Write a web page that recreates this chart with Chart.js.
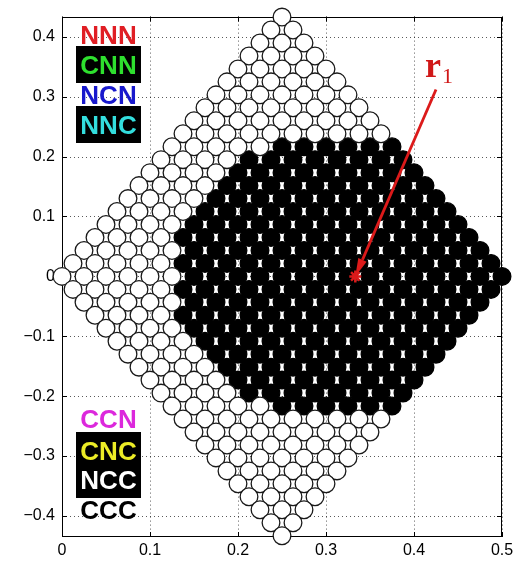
<!DOCTYPE html>
<html>
<head>
<meta charset="utf-8">
<script src="https://cdn.jsdelivr.net/npm/chart.js@4.4.0/dist/chart.umd.min.js"></script>
<style>
html,body{margin:0;padding:0;background:#fff;}
#wrap{width:524px;height:565px;position:relative;}
</style>
</head>
<body>
<div id="wrap"><canvas id="c" width="524" height="565"></canvas></div>
<script>
// ---- data ----
const latticeStepX = 0.025;
const rowY = [
  0.4330, 0.4114, 0.3897, 0.3681, 0.3464, 0.3248, 0.3031, 0.2815, 0.2598, 0.2382,
  0.2165, 0.1949, 0.1732, 0.1516, 0.1299, 0.1083, 0.0866, 0.0650, 0.0433, 0.0217,
  0,
  -0.0217, -0.0433, -0.0650, -0.0866, -0.1083, -0.1299, -0.1516, -0.1732, -0.1949, -0.2165,
  -0.2382, -0.2598, -0.2815, -0.3031, -0.3248, -0.3464, -0.3681, -0.3897, -0.4114, -0.4330
];
const rowFirstX = [
  0.25, 0.2375, 0.225, 0.2125, 0.2, 0.1875, 0.175, 0.1625, 0.15, 0.1375,
  0.125, 0.1125, 0.1, 0.0875, 0.075, 0.0625, 0.05, 0.0375, 0.025, 0.0125,
  0,
  0.0125, 0.025, 0.0375, 0.05, 0.0625, 0.075, 0.0875, 0.1, 0.1125, 0.125,
  0.1375, 0.15, 0.1625, 0.175, 0.1875, 0.2, 0.2125, 0.225, 0.2375, 0.25
];
const rowCount = [
  1, 2, 3, 4, 5, 6, 7, 8, 9, 10,
  11, 12, 13, 14, 15, 16, 17, 18, 19, 20,
  21,
  20, 19, 18, 17, 16, 15, 14, 13, 12, 11,
  10, 9, 8, 7, 6, 5, 4, 3, 2, 1
];
const blackFromX = [
  null, null, null, null, null, null, null, null, null, null,
  0.25, 0.2125, 0.2, 0.1875, 0.175, 0.1625, 0.15, 0.1375, 0.15, 0.1375,
  0.15,
  0.1375, 0.15, 0.1375, 0.15, 0.1625, 0.175, 0.1875, 0.2, 0.2125, 0.25,
  null, null, null, null, null, null, null, null, null, null
];
const xTicks = [0, 0.1, 0.2, 0.3, 0.4, 0.5];
const xTickLabels = ['0', '0.1', '0.2', '0.3', '0.4', '0.5'];
const yTicks = [-0.4, -0.3, -0.2, -0.1, 0, 0.1, 0.2, 0.3, 0.4];
const yTickLabels = ['\u22120.4', '\u22120.3', '\u22120.2', '\u22120.1', '0', '0.1', '0.2', '0.3', '0.4'];
const r1Point = [0.3333, 0];
const arrowStart = [0.425, 0.312];
const r1Label = 'r';
const r1Sub = '1';
const labelsTop = ['NNN', 'CNN', 'NCN', 'NNC'];
const labelsTopColors = ['#e01e24', '#2ee02e', '#1818cc', '#33dede'];
const labelsTopBoxed = [false, true, false, true];
const labelsBottom = ['CCN', 'CNC', 'NCC', 'CCC'];
const labelsBottomColors = ['#dc28dc', '#ecec26', '#ffffff', '#000000'];
const labelsBottomBoxed = [false, true, true, false];

// ---- build points ----
const whitePts = [], blackPts = [];
rowY.forEach((y, i) => {
  for (let j = 0; j < rowCount[i]; j++) {
    const x = +(rowFirstX[i] + j * latticeStepX).toFixed(4);
    const b = blackFromX[i];
    if (b !== null && x >= b - 1e-9) blackPts.push({x, y});
    else whitePts.push({x, y});
  }
});

const RED = '#dc1a1a';

const frame = {
  id: 'frame',
  beforeDatasetsDraw(chart) {
    const {ctx, chartArea: a, scales: {x, y}} = chart;
    ctx.save();
    ctx.strokeStyle = 'rgba(0,0,0,0.65)';
    ctx.lineWidth = 1;
    ctx.setLineDash([1, 3]);
    ctx.beginPath();
    yTicks.forEach(v => {
      const py = Math.round(y.getPixelForValue(v)) + 0.5;
      ctx.moveTo(a.left, py); ctx.lineTo(a.right, py);
    });
    ctx.stroke();
    ctx.setLineDash([]);
    ctx.strokeStyle = '#000';
    ctx.strokeRect(Math.round(a.left) + 0.5, Math.round(a.top) + 0.5,
                   Math.round(a.right - a.left) - 1, Math.round(a.bottom - a.top) - 1);
    ctx.beginPath();
    const L = 5;
    xTicks.forEach(v => {
      const px = Math.round(x.getPixelForValue(v)) + 0.5;
      ctx.moveTo(px, a.bottom); ctx.lineTo(px, a.bottom - L);
      ctx.moveTo(px, a.top); ctx.lineTo(px, a.top + L);
    });
    yTicks.forEach(v => {
      const py = Math.round(y.getPixelForValue(v)) + 0.5;
      ctx.moveTo(a.left, py); ctx.lineTo(a.left + L, py);
      ctx.moveTo(a.right, py); ctx.lineTo(a.right - L, py);
    });
    ctx.stroke();
    ctx.restore();
  }
};

const overlay = {
  id: 'overlay',
  afterDatasetsDraw(chart) {
    const {ctx, scales: {x, y}} = chart;
    ctx.save();
    const sx = x.getPixelForValue(arrowStart[0]), sy = y.getPixelForValue(arrowStart[1]);
    const tx = x.getPixelForValue(r1Point[0]), ty = y.getPixelForValue(r1Point[1]);
    const ang = Math.atan2(ty - sy, tx - sx);
    const headLen = 18, headW = 4.5;
    const bx = tx - headLen * Math.cos(ang), by = ty - headLen * Math.sin(ang);
    ctx.strokeStyle = RED; ctx.fillStyle = RED; ctx.lineWidth = 2.8; ctx.lineCap = 'butt';
    ctx.beginPath(); ctx.moveTo(sx, sy); ctx.lineTo(bx, by); ctx.stroke();
    ctx.beginPath();
    ctx.moveTo(tx, ty);
    ctx.lineTo(bx + headW * Math.sin(ang), by - headW * Math.cos(ang));
    ctx.lineTo(bx - headW * Math.sin(ang), by + headW * Math.cos(ang));
    ctx.closePath(); ctx.fill();
    ctx.fillStyle = '#d01818';
    ctx.textAlign = 'left'; ctx.textBaseline = 'alphabetic';
    ctx.font = "bold 36px 'Liberation Serif', 'DejaVu Serif', serif";
    ctx.fillText(r1Label, sx - 11, sy - 13);
    ctx.font = "22px 'Liberation Serif', 'DejaVu Serif', serif";
    ctx.fillText(r1Sub, sx + 6, sy - 7);

    const cx = 108.5, boxL = 76, boxR = 141;
    const drawGroup = (labels, colors, boxed, baselines) => {
      ctx.fillStyle = '#000';
      labels.forEach((t, i) => {
        if (boxed[i]) ctx.fillRect(boxL, baselines[i] - 28, boxR - boxL, 37);
      });
      ctx.font = "bold 26px 'Liberation Sans', Arial, sans-serif";
      ctx.textAlign = 'center'; ctx.textBaseline = 'alphabetic';
      labels.forEach((t, i) => {
        ctx.fillStyle = colors[i];
        ctx.fillText(t, cx, baselines[i]);
      });
    };
    drawGroup(labelsTop, labelsTopColors, labelsTopBoxed, [44, 74, 104, 134]);
    drawGroup(labelsBottom, labelsBottomColors, labelsBottomBoxed, [428, 460, 489, 519]);
    ctx.restore();
  }
};

Chart.defaults.font.family = "'Liberation Sans', Arial, sans-serif";
Chart.defaults.color = '#000';

new Chart(document.getElementById('c'), {
  type: 'scatter',
  data: {
    datasets: [
      {
        label: 'r1', data: [{x: r1Point[0], y: r1Point[1]}], order: 0,
        pointStyle: 'star', pointRadius: 6, borderColor: RED, backgroundColor: RED, borderWidth: 2.5,
        clip: false
      },
      {
        label: 'white', data: whitePts, order: 1,
        pointRadius: 8.85, pointBorderWidth: 1.3, borderColor: '#1a1a1a', backgroundColor: '#ffffff',
        clip: false
      },
      {
        label: 'black', data: blackPts, order: 2,
        pointRadius: 8.85, pointBorderWidth: 1.3, borderColor: '#000000', backgroundColor: '#000000',
        clip: false
      }
    ]
  },
  options: {
    responsive: false,
    devicePixelRatio: 1,
    animation: false,
    events: [],
    layout: {padding: {top: 13, right: 22, bottom: 0, left: 0}},
    plugins: {legend: {display: false}, tooltip: {enabled: false}},
    scales: {
      x: {
        type: 'linear', min: 0, max: 0.5,
        afterBuildTicks: s => { s.ticks = xTicks.map(v => ({value: v})); },
        afterFit: s => { s.height = 28; },
        ticks: {callback: (v, i) => xTickLabels[i], font: {size: 16}, color: '#000', padding: 4,
                maxRotation: 0, autoSkip: false},
        grid: {color: 'rgba(0,0,0,0.65)', lineWidth: 1, drawTicks: false},
        border: {display: false, dash: [1, 3]}
      },
      y: {
        type: 'linear', min: -0.4352, max: 0.4338, z: 1,
        afterBuildTicks: s => { s.ticks = yTicks.map(v => ({value: v})); },
        afterFit: s => { s.width = 62; },
        ticks: {callback: (v, i) => yTickLabels[i], font: {size: 16}, color: '#000', padding: 7,
                autoSkip: false},
        grid: {display: false, drawTicks: false},
        border: {display: false}
      }
    }
  },
  plugins: [frame, overlay]
});
</script>
</body>
</html>
